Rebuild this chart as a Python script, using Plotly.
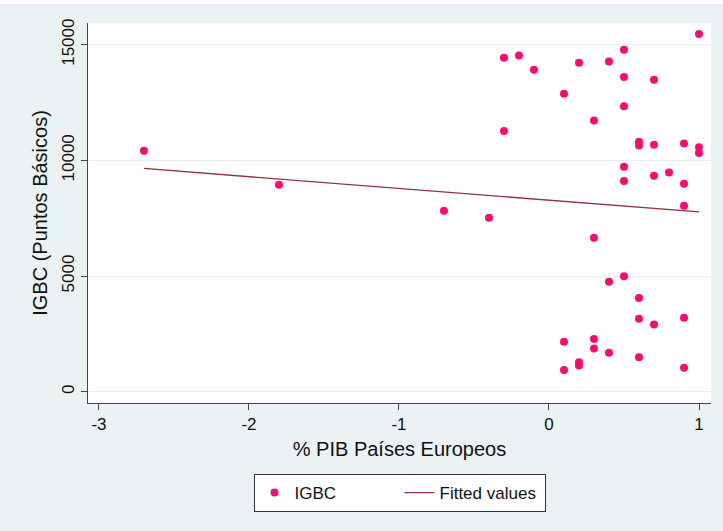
import plotly.graph_objects as go

# % PIB Países Europeos (x) and IGBC in puntos básicos (y)
pib = [-2.7, -1.8, -0.7, -0.4, -0.3, -0.2, -0.1, -0.3,
       0.1, 0.2, 0.4, 0.5, 0.5, 0.7, 0.3, 0.5, 1.0,
       0.6, 0.6, 0.7, 0.9, 1.0, 1.0,
       0.5, 0.5, 0.7, 0.8, 0.9, 0.9,
       0.3, 0.4, 0.5, 0.6, 0.6, 0.7, 0.9,
       0.1, 0.3, 0.3, 0.4, 0.6, 0.2, 0.2, 0.1, 0.9]
igbc = [10420, 8950, 7820, 7520, 14440, 14530, 13920, 11270,
        12880, 14220, 14270, 14780, 13600, 13480, 11720, 12340, 15460,
        10800, 10640, 10670, 10730, 10570, 10320,
        9720, 9110, 9330, 9470, 8990, 8040,
        6650, 4750, 4990, 4050, 3150, 2900, 3200,
        2160, 2280, 1870, 1680, 1490, 1270, 1130, 940, 1040]

# Linear fitted values at the extremes of the x range
fitted_x = [-2.7, 1.0]
fitted_y = [9650, 7770]

x_ticks = [-3, -2, -1, 0, 1]
y_ticks = [0, 5000, 10000, 15000]

FONT = "Liberation Sans, Arial, sans-serif"
BG = "#eaf2f3"
TXT = "#111111"

fig = go.Figure()
fig.add_trace(go.Scatter(
    x=pib, y=igbc, mode="markers", name="IGBC",
    marker=dict(color="#ff0a6e", size=8, line=dict(width=0)),
))
fig.add_trace(go.Scatter(
    x=fitted_x, y=fitted_y, mode="lines", name="Fitted values",
    line=dict(color="#90353b", width=1.3),
))

fig.update_layout(
    width=723, height=531,
    margin=dict(l=88, r=12, t=23, b=128),
    paper_bgcolor=BG, plot_bgcolor="white",
    font=dict(family=FONT, size=17, color=TXT),
    showlegend=True,
    legend=dict(
        orientation="h", x=0.5, xanchor="center", y=-0.187, yanchor="top",
        bgcolor="white", bordercolor="#333333", borderwidth=1,
        font=dict(size=17), entrywidth=100, tracegroupgap=0,
    ),
    shapes=[dict(type="rect", xref="paper", yref="paper",
                 x0=-0.2, x1=1.1, y0=1.05, y1=1.08,
                 fillcolor="white", line=dict(width=0), layer="below")],
)

fig.update_xaxes(
    range=[-3.073, 1.08], tickvals=x_ticks, ticktext=[str(v) for v in x_ticks],
    showgrid=False, zeroline=False,
    showline=True, linecolor="#444444", linewidth=1,
    ticks="outside", ticklen=6, tickcolor="#444444",
    title=dict(text="% PIB Países Europeos", standoff=8),
)
fig.update_yaxes(
    range=[-489, 15938], tickvals=y_ticks, ticktext=[str(v) for v in y_ticks],
    tickangle=-90,
    showgrid=True, gridcolor="#e6eeef", gridwidth=1, zeroline=False,
    showline=True, linecolor="#444444", linewidth=1,
    ticks="outside", ticklen=6, tickcolor="#444444",
    title=dict(text="IGBC (Puntos Básicos)", standoff=6),
)

fig.write_html("out.html")
